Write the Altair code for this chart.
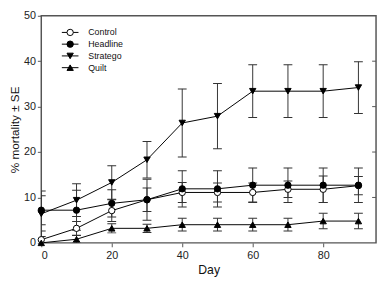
import altair as alt
import pandas as pd

days = [0, 10, 20, 30, 40, 50, 60, 70, 80, 90]
series_names = ["Control", "Headline", "Stratego", "Quilt"]

control = [0.7, 3.2, 7.1, 9.5, 11.1, 11.1, 11.1, 11.8, 11.8, 12.6]
control_se = [1.9, 1.5, 2.4, 2.6, 2.2, 2.1, 2.1, 1.8, 2.9, 2.0]
headline = [7.2, 7.2, 8.7, 9.5, 11.9, 11.9, 12.7, 12.7, 12.7, 12.7]
headline_se = [3.2, 4.4, 3.0, 4.5, 4.0, 4.0, 3.8, 3.8, 3.8, 3.8]
stratego = [6.4, 9.4, 13.3, 18.3, 26.4, 27.9, 33.4, 33.4, 33.4, 34.2]
stratego_se = [5.0, 3.6, 3.7, 4.0, 7.5, 7.2, 5.8, 5.8, 5.8, 5.7]
quilt = [0.0, 0.8, 3.2, 3.2, 4.0, 4.0, 4.0, 4.0, 4.8, 4.8]
quilt_se = [0.0, 0.8, 1.0, 0.9, 1.4, 1.4, 1.4, 1.4, 1.7, 1.7]

x_ticks = [0, 20, 40, 60, 80]
y_ticks = [0, 10, 20, 30, 40, 50]
right_ticks = [10, 20, 30, 40]

rows = []
for name, vals, ses in zip(series_names, [control, headline, stratego, quilt],
                           [control_se, headline_se, stratego_se, quilt_se]):
    for d, v, s in zip(days, vals, ses):
        rows.append(dict(day=d, series=name, value=v, lo=v - s, hi=v + s))
df = pd.DataFrame(rows)
legend_df = pd.DataFrame({"series": series_names})
rt_df = pd.DataFrame({"t": right_ticks})

W, H = 342, 232
FONT = "Liberation Sans"
FRAME = "#555555"

xscale = alt.Scale(domain=[0, 95], nice=False)
yscale = alt.Scale(domain=[0, 50], nice=False)
xaxis = alt.Axis(values=x_ticks, title="Day", domain=False, grid=False, tickSize=4,
                 labelPadding=3, titlePadding=3, titleFontSize=12.5)
yaxis = alt.Axis(values=y_ticks, title="% mortality ± SE", domain=False, grid=False,
                 tickSize=4, labelPadding=2, titlePadding=2, titleFontSize=12)

shape_scale = alt.Scale(domain=series_names,
                        range=["circle", "circle", "triangle-down", "triangle-up"])
fill_scale = alt.Scale(domain=series_names, range=["white", "black", "black", "black"])

X = lambda f: alt.X(f, scale=xscale, axis=xaxis)
Y = lambda f: alt.Y(f, scale=yscale, axis=yaxis)

base = alt.Chart(df)
err = base.mark_rule(color="#333333", strokeWidth=1, clip=True).encode(
    x=X("day:Q"), y=Y("lo:Q"), y2="hi:Q")
cap_lo = base.mark_tick(orient="horizontal", size=9, thickness=1, color="#333333",
                        opacity=1, clip=True).encode(x=X("day:Q"), y=Y("lo:Q"))
cap_hi = base.mark_tick(orient="horizontal", size=9, thickness=1, color="#333333",
                        opacity=1, clip=True).encode(x=X("day:Q"), y=Y("hi:Q"))
lines = base.mark_line(color="black", strokeWidth=1).encode(
    x=X("day:Q"), y=Y("value:Q"), detail="series:N")
points = base.mark_point(filled=True, opacity=1, stroke="black", strokeWidth=1,
                         size=42).encode(
    x=X("day:Q"), y=Y("value:Q"),
    shape=alt.Shape("series:N", scale=shape_scale, legend=None),
    fill=alt.Fill("series:N", scale=fill_scale, legend=None))
rticks = alt.Chart(rt_df).mark_rule(color=FRAME, strokeWidth=1).encode(
    y=Y("t:Q"), x=alt.value(W - 4), x2=alt.value(W))

main = alt.layer(err, cap_lo, cap_hi, lines, points, rticks)

leg_y = alt.Y("series:N", scale=alt.Scale(type="point", domain=series_names,
                                           range=[17, 53], padding=0), axis=None)
lb = alt.Chart(legend_df)
leg_line = lb.mark_rule(color="black", strokeWidth=1).encode(
    y=leg_y, x=alt.value(21), x2=alt.value(38))
leg_pt = lb.mark_point(filled=True, opacity=1, stroke="black", strokeWidth=1,
                       size=42).encode(
    y=leg_y, x=alt.value(29.5),
    shape=alt.Shape("series:N", scale=shape_scale, legend=None),
    fill=alt.Fill("series:N", scale=fill_scale, legend=None))
leg_txt = lb.mark_text(align="left", baseline="middle", fontSize=9, font=FONT,
                       color="#111111").encode(
    y=leg_y, x=alt.value(48), text="series:N")
legend = alt.layer(leg_line, leg_pt, leg_txt)

chart = alt.layer(main, legend).resolve_scale(y="independent").properties(
    width=W, height=H,
    autosize=alt.AutoSizeParams(type="none"),
    padding={"left": 34, "top": 5, "right": 2, "bottom": 36},
).configure_view(stroke=FRAME, strokeWidth=1.5).configure_axis(
    labelFont=FONT, titleFont=FONT, labelFontSize=11,
    labelColor="#222222", titleColor="#111111", titleFontWeight="normal",
    tickColor=FRAME,
)

chart.save("out.html", embed_options={"renderer": "svg", "actions": False})
